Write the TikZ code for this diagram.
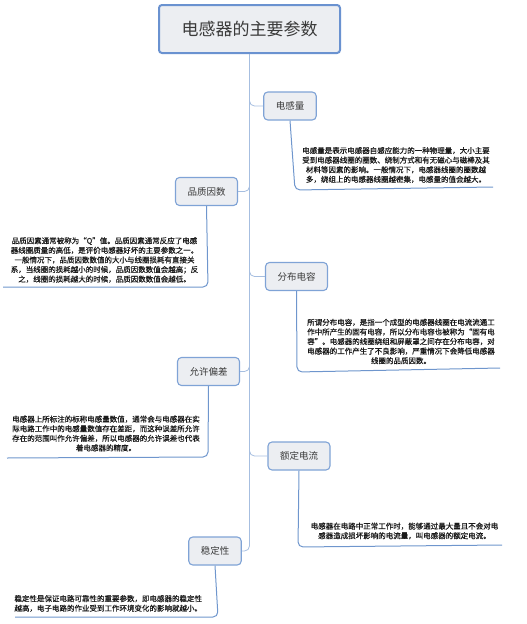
\documentclass[tikz,border=0pt]{standalone}
\usepackage{fontspec}
\setmainfont{Noto Sans CJK SC}
\newfontfamily\notefont[FakeBold=0.6]{Noto Sans CJK SC}
\usetikzlibrary{positioning,calc}
\definecolor{ink}{HTML}{1A1A1A}
\definecolor{ink2}{HTML}{3A3A3A}
\definecolor{rim}{HTML}{7FA3D6}
\definecolor{rootrim}{HTML}{6A92D0}
\definecolor{boxfill}{HTML}{ECEEF2}
\definecolor{twig}{HTML}{A6BEE0}
\definecolor{uline}{HTML}{6F96CD}
\tikzset{
  root/.style={draw=rootrim, line width=2pt, rounded corners=3pt, fill=boxfill,
               minimum width=181pt, minimum height=48pt, inner sep=0pt,
               font=\fontsize{17}{20}\selectfont, text=ink2},
  topic/.style={draw=rim, line width=1.1pt, rounded corners=4pt, fill=boxfill,
                inner xsep=12pt, inner ysep=0pt, minimum height=28pt,
                font=\fontsize{9.5}{11}\selectfont, text=ink2},
  note/.style={align=center, text width=196pt, inner sep=0pt, text=ink,
               font=\notefont\fontsize{7.5}{9.6}\selectfont},
  branch/.style={draw=twig, line width=0.8pt, rounded corners=5pt},
  leaf/.style={draw=uline, line width=1pt, rounded corners=5pt},
}

\begin{document}
\begin{tikzpicture}[x=1pt,y=-1pt]
\useasboundingbox (0,0) rectangle (527,624);
% root
\node[root] (title) at (249.5,29) {电感器的主要参数};
% topics
\node[topic] (lz)   at (290,106)   {电感量};
\node[topic] (qf)   at (206.5,191.5) {品质因数};
\node[topic] (dc)   at (296.5,276.5) {分布电容};
\node[topic] (tol)  at (208.5,371.5) {允许偏差};
\node[topic] (cur)  at (299,456)   {额定电流};
\node[topic] (stab) at (215,551)   {稳定性};
% trunk + branches
\draw[branch] (title.south) |- (lz.west);
\draw[branch] (title.south) |- (qf.east);
\draw[branch] (title.south) |- (dc.west);
\draw[branch] (title.south) |- (tol.east);
\draw[branch] (title.south) |- (cur.west);
\draw[branch] (title.south) |- (stab.east);
% notes
\node[note] (lzt) at (396,165) {电感量是表示电感器自感应能力的一种物理量，大小主要\\受到电感器线圈的圈数、绕制方式和有无磁心与磁棒及其\\材料等因素的影响。一般情况下，电感器线圈的圈数越\\多，绕组上的电感器线圈越密集，电感量的值会越大。};
\node[note] (qft) at (104.5,260) {品质因素通常被称为“Q”值。品质因素通常反应了电感\\器线圈质量的高低，是评价电感器好坏的主要参数之一。\\一般情况下，品质因数数值的大小与线圈损耗有直接关\\系，当线圈的损耗越小的时候，品质因数数值会越高；反\\之，线圈的损耗越大的时候，品质因数数值会越低。};
\node[note] (dct) at (401,341.5) {所谓分布电容，是指一个成型的电感器线圈在电流流通工\\作中所产生的固有电容，所以分布电容也被称为“固有电\\容”。电感器的线圈绕组和屏蔽罩之间存在分布电容，对\\电感器的工作产生了不良影响，严重情况下会降低电感器\\线圈的品质因数。};
\node[note] (tolt) at (106,433.5) {电感器上所标注的标称电感量数值，通常会与电感器在实\\际电路工作中的电感量数值存在差距，而这种误差所允许\\存在的范围叫作允许偏差，所以电感器的允许误差也代表\\着电感器的精度。};
\node[note] (curt) at (404.5,531) {电感器在电路中正常工作时，能够通过最大量且不会对电\\感器造成损坏影响的电流量，叫电感器的额定电流。};
\node[note, align=left] (stabt) at (112.5,603.5) {稳定性是保证电路可靠性的重要参数，即电感器的稳定性\\越高，电子电路的作业受到工作环境变化的影响就越小。};
% underlines
\coordinate (lzc) at (295,190);   \coordinate (lze) at (493,187);
\coordinate (qfc) at (208,287);   \coordinate (qfe) at (3,287);
\coordinate (dcc) at (297,372);   \coordinate (dce) at (500,368);
\coordinate (tolc) at (208,457);  \coordinate (tole) at (7,458);
\coordinate (curc) at (298,547);  \coordinate (cure) at (502,545);
\coordinate (stabc) at (218,617); \coordinate (stabe) at (15,617);
\foreach \t in {lz,qf,dc,tol,cur,stab}
  \draw[leaf] (\t.south) -- (\t c) -- (\t e);
\end{tikzpicture}
\end{document}
